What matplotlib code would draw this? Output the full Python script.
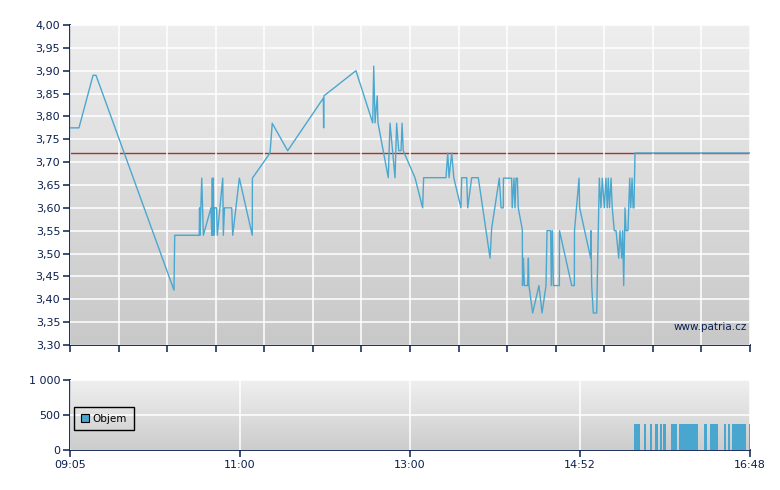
import numpy as np
import matplotlib
matplotlib.use("Agg")
import matplotlib.pyplot as plt
from matplotlib.ticker import FuncFormatter

# ---- data: minutes since 09:05 ----
t_min = [0.0, 6.1, 15.7, 17.7, 70.8, 71.3, 88.0, 88.2, 88.5, 89.7, 90.8, 96.0, 96.5,
         96.9, 97.2, 97.6, 97.9, 98.3, 99.8, 100.3, 104.0, 104.4, 105.2, 110.1, 110.8,
         115.3, 124.1, 124.2, 136.2, 137.7, 148.2, 172.5, 172.7, 172.9, 194.7, 206.1,
         206.8, 207.7, 209.2, 209.7, 216.7, 217.9, 221.3, 222.4, 223.8, 225.4, 226.1,
         226.9, 234.9, 240.1, 240.8, 256.0, 257.2, 258.1, 259.9, 261.3, 266.2, 266.7,
         270.1, 270.8, 273.5, 278.0, 286.0, 287.1, 292.3, 293.5, 295.0, 295.1, 300.7,
         301.1, 302.3, 303.0, 303.7, 304.6, 305.2, 308.0, 308.1, 308.7, 309.4, 311.6,
         312.1, 312.5, 315.0, 319.3, 321.4, 324.1, 324.8, 327.3, 327.7, 328.4, 329.1,
         333.2, 333.3, 341.6, 343.4, 343.5, 346.6, 347.0, 354.5, 354.7, 355.2, 356.3,
         358.6, 360.4, 361.5, 362.4, 363.8, 364.9, 365.8, 366.5, 367.3, 368.4, 369.2,
         370.6, 371.8, 373.6, 374.5, 375.6, 376.3, 377.0, 377.9, 378.6, 379.9, 381.1,
         381.8, 382.7, 383.4, 384.0, 384.7, 463.0]
price = [3.775, 3.775, 3.89, 3.89, 3.42, 3.54, 3.54, 3.60, 3.54, 3.665, 3.54, 3.60, 3.54,
         3.665, 3.54, 3.665, 3.54, 3.60, 3.60, 3.54, 3.665, 3.54, 3.60, 3.60, 3.54,
         3.665, 3.54, 3.665, 3.72, 3.785, 3.725, 3.84, 3.775, 3.845, 3.90, 3.786,
         3.91, 3.786, 3.845, 3.786, 3.666, 3.785, 3.666, 3.785, 3.725, 3.725, 3.785,
         3.725, 3.666, 3.60, 3.666, 3.666, 3.72, 3.666, 3.72, 3.666, 3.60, 3.666,
         3.666, 3.60, 3.666, 3.666, 3.49, 3.555, 3.665, 3.60, 3.60, 3.665, 3.665,
         3.60, 3.665, 3.60, 3.665, 3.665, 3.60, 3.552, 3.43, 3.49, 3.43, 3.43,
         3.49, 3.43, 3.37, 3.43, 3.37, 3.43, 3.55, 3.55, 3.43, 3.55, 3.43,
         3.43, 3.55, 3.43, 3.43, 3.55, 3.665, 3.60, 3.49, 3.55, 3.43, 3.37,
         3.37, 3.665, 3.60, 3.665, 3.60, 3.665, 3.60, 3.665, 3.60, 3.665, 3.60,
         3.55, 3.55, 3.49, 3.55, 3.49, 3.55, 3.43, 3.60, 3.55, 3.55, 3.665,
         3.60, 3.665, 3.60, 3.60, 3.72, 3.72]
prev_close = 3.72

vol_start = [384.0, 390.8, 394.9, 398.3, 401.5, 404.0, 409.2, 414.7, 431.7, 436.0, 445.2, 447.8, 450.5, 462.1]
vol_end = [388.0, 392.2, 396.3, 400.3, 403.1, 405.6, 413.1, 427.6, 433.5, 441.2, 446.4, 449.4, 460.3, 463.0]
vol_value = [370] * len(vol_start)

x_end = 463.0
xtick_labels = ["09:05", "11:00", "13:00", "14:52", "16:48"]

navy = "#0b1f4f"
blue = "#4aa8d0"
plt.rcParams["font.family"] = "DejaVu Sans"

fig = plt.figure(figsize=(7.8, 4.9), dpi=100)
ax1 = fig.add_axes([70 / 780, 145 / 490, 680 / 780, 320 / 490])
ax2 = fig.add_axes([70 / 780, 40 / 490, 680 / 780, 70 / 490])


def gradient(ax, top, bottom):
    g = np.linspace(top, bottom, 256)[:, None]
    img = np.dstack([g, g, g])
    ax.imshow(img, extent=[0, 1, 0, 1], transform=ax.transAxes, aspect="auto", zorder=0)


def style(ax):
    for s in ["top", "right"]:
        ax.spines[s].set_visible(False)
    for s in ["left", "bottom"]:
        ax.spines[s].set_color(navy)
        ax.spines[s].set_linewidth(1.3)
    ax.tick_params(colors=navy, labelcolor=navy, labelsize=8, length=5, width=1.1, pad=2)
    ax.grid(True, color="white", linewidth=1.1, zorder=1)
    ax.set_axisbelow(False)


# price panel
gradient(ax1, 0.935, 0.785)
ax1.axhline(prev_close, color="#a83232", linewidth=1.0, zorder=2)
ax1.plot(t_min, price, color=blue, linewidth=1.0, zorder=3)
ax1.set_xlim(0, x_end)
ax1.set_ylim(3.30, 4.00)
ax1.set_yticks(np.arange(3.30, 4.001, 0.05))
ax1.yaxis.set_major_formatter(FuncFormatter(lambda v, p: f"{v:.2f}".replace(".", ",")))
ax1.set_xticks(np.linspace(0, x_end, 15))
ax1.set_xticklabels([])
style(ax1)
for gl in ax1.get_xgridlines() + ax1.get_ygridlines():
    gl.set_zorder(1)
ax1.text(0.995, 0.055, "www.patria.cz", transform=ax1.transAxes, ha="right", va="center",
         fontsize=7.5, color=navy, zorder=4)

# volume panel
gradient(ax2, 0.94, 0.80)
ax2.bar(vol_start, vol_value, width=np.array(vol_end) - np.array(vol_start), align="edge",
        color="#48a6cf", linewidth=0, zorder=3, label="Objem")
ax2.set_xlim(0, x_end)
ax2.set_ylim(0, 1000)
ax2.set_yticks([0, 500, 1000])
ax2.set_yticklabels(["0", "500", "1 000"])
ax2.set_xticks(np.linspace(0, x_end, 5))
ax2.set_xticklabels(xtick_labels)
style(ax2)
leg = ax2.legend(loc="center left", bbox_to_anchor=(0.0, 0.45), fontsize=7.5, frameon=True,
                 fancybox=False, edgecolor="black", facecolor="none", handlelength=0.75,
                 handleheight=0.75, handletextpad=0.35, borderpad=0.65, framealpha=1,
                 borderaxespad=0.4)
leg.get_frame().set_linewidth(1.0)
for h in leg.legend_handles:
    h.set_edgecolor("black")
    h.set_linewidth(0.8)
for t in leg.get_texts():
    t.set_color("black")

fig.savefig("out.png", dpi=100)
